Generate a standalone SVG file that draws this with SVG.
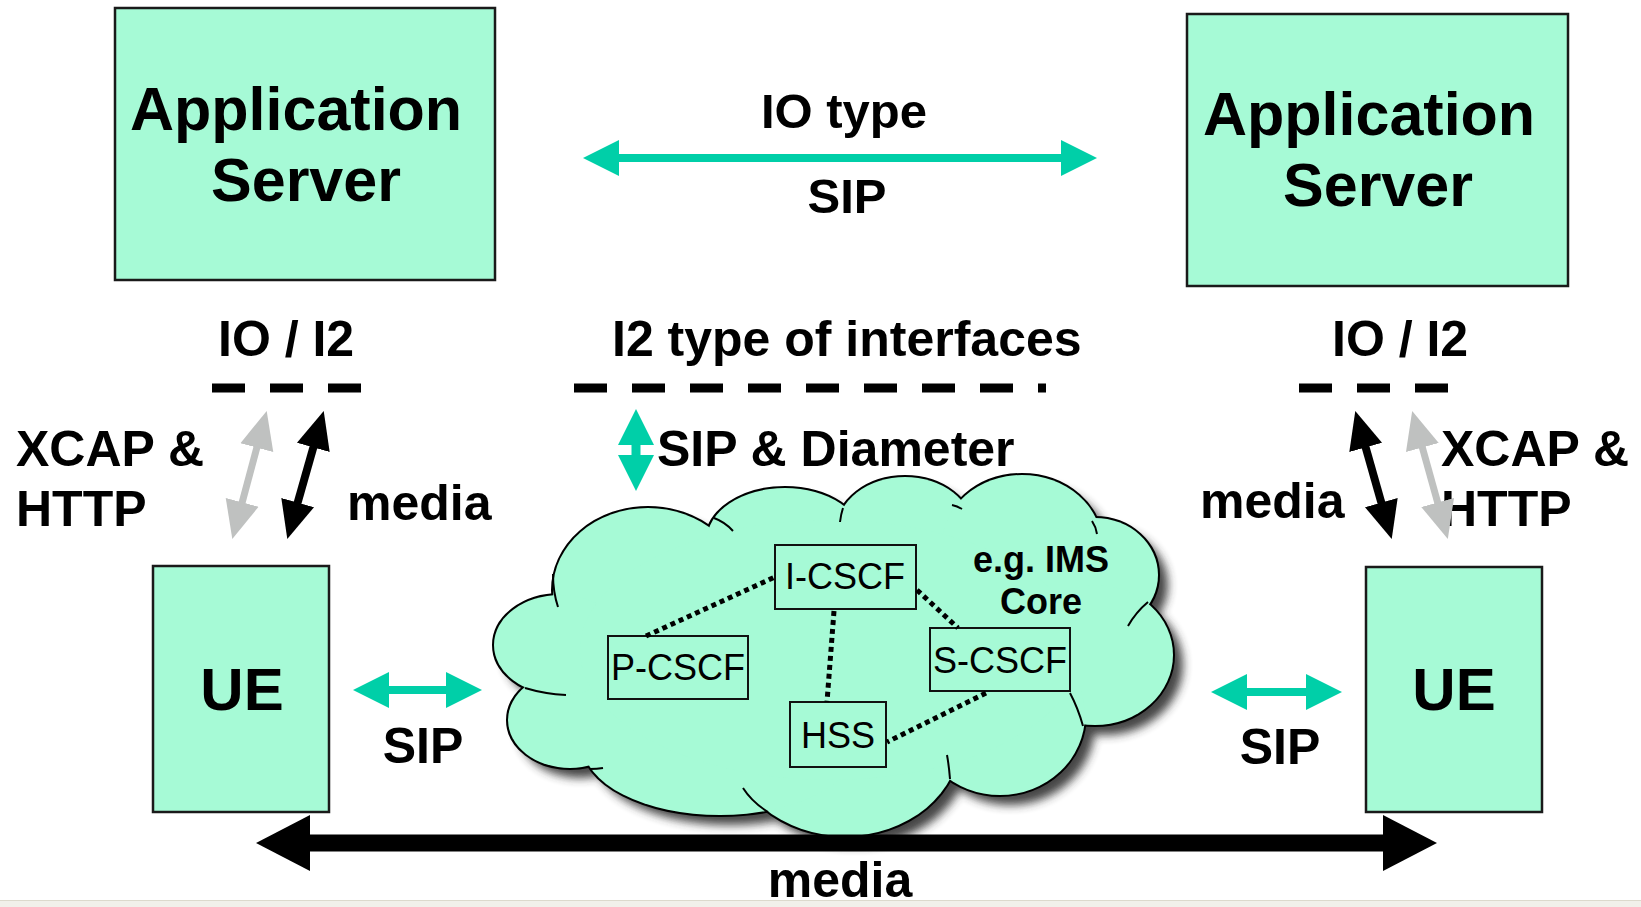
<svg xmlns="http://www.w3.org/2000/svg" width="1641" height="907" viewBox="0 0 1641 907">
<defs>
<style>
.box{fill:#A6FAD6;stroke:#1a1a1a;stroke-width:2.5}
.ibox{fill:none;stroke:#111;stroke-width:2}
.b{font-family:"Liberation Sans",Arial,sans-serif;font-weight:bold;fill:#000}
.n{font-family:"Liberation Sans",Arial,sans-serif;fill:#000}
.dash{stroke:#000;stroke-width:9;stroke-dasharray:33 25;fill:none}
.dot{stroke:#000;stroke-width:5;stroke-dasharray:5 4;fill:none}
.lobeS{fill:none;stroke:#000;stroke-width:4}
.lobeF{fill:#A6FAD6;stroke:none}
.tail{fill:none;stroke:#000;stroke-width:2}
</style>
<marker id="hTeal" markerUnits="userSpaceOnUse" markerWidth="40" markerHeight="40" viewBox="0 -20 40 40" refX="1" refY="0" orient="auto-start-reverse"><path d="M0,-18 L36,0 L0,18 Z" fill="#00CFA8"/></marker>
<marker id="hBlack" markerUnits="userSpaceOnUse" markerWidth="40" markerHeight="40" viewBox="0 -20 40 40" refX="1" refY="0" orient="auto-start-reverse"><path d="M0,-17 L38,0 L0,17 Z" fill="#000"/></marker>
<marker id="hGrey" markerUnits="userSpaceOnUse" markerWidth="40" markerHeight="40" viewBox="0 -20 40 40" refX="1" refY="0" orient="auto-start-reverse"><path d="M0,-17 L38,0 L0,17 Z" fill="#BFC1C0"/></marker>
<marker id="hBig" markerUnits="userSpaceOnUse" markerWidth="60" markerHeight="60" viewBox="0 -30 60 60" refX="1" refY="0" orient="auto-start-reverse"><path d="M0,-28 L54,0 L0,28 Z" fill="#000"/></marker>
<filter id="shadow" x="-20%" y="-20%" width="140%" height="140%"><feGaussianBlur stdDeviation="5"/></filter>
<g id="lobes">
<ellipse cx="648" cy="590" rx="95" ry="82"/>
<ellipse cx="785" cy="540" rx="78" ry="52"/>
<ellipse cx="905" cy="530" rx="68" ry="53"/>
<ellipse cx="1022" cy="545" rx="80" ry="70"/>
<ellipse cx="1095" cy="575" rx="63" ry="57"/>
<ellipse cx="1095" cy="655" rx="78" ry="70"/>
<ellipse cx="1000" cy="715" rx="85" ry="80"/>
<ellipse cx="845" cy="740" rx="115" ry="96"/>
<ellipse cx="720" cy="745" rx="137" ry="70"/>
<ellipse cx="570" cy="720" rx="62" ry="48"/>
<ellipse cx="560" cy="645" rx="66" ry="50"/>
<ellipse cx="830" cy="650" rx="250" ry="130"/>
</g>
</defs>
<rect x="0" y="0" width="1641" height="907" fill="#fff"/>
<rect x="0" y="900" width="1641" height="7" fill="#F1F0EA"/>
<line x1="0" y1="900.5" x2="1641" y2="900.5" stroke="#DCD9CC" stroke-width="1"/>

<g id="as-left">
<rect class="box" x="115" y="8" width="380" height="272"/>
<text class="b" x="130" y="130" font-size="61">Application</text>
<text class="b" x="306" y="201" font-size="61" text-anchor="middle">Server</text>
</g>
<g id="as-right">
<rect class="box" x="1187" y="14" width="381" height="272"/>
<text class="b" x="1203" y="135" font-size="61">Application</text>
<text class="b" x="1378" y="206" font-size="61" text-anchor="middle">Server</text>
</g>

<g id="ims-cloud">
<g filter="url(#shadow)" transform="translate(10,10)" fill="#333" opacity="0.9"><use href="#lobes"/></g>
<g class="lobeS"><use href="#lobes"/></g>
<g class="lobeF"><use href="#lobes"/></g>
<path class="tail" d="M714,518 Q725,522 733,531"/>
<path class="tail" d="M843,508 Q841,514 840,522"/>
<path class="tail" d="M952,505 Q957,506 962,509"/>
<path class="tail" d="M1092,521 Q1096,527 1097,534"/>
<path class="tail" d="M1148,602 Q1136,612 1128,626"/>
<path class="tail" d="M1070,693 Q1078,708 1083,726"/>
<path class="tail" d="M950,779 Q949,766 947,755"/>
<path class="tail" d="M743,788 Q752,802 768,812"/>
<path class="tail" d="M590,769 Q597,769 603,768"/>
<path class="tail" d="M525,688 Q545,694 566,695"/>
<path class="tail" d="M553,574 Q553,592 558,607"/>
<text class="b" x="1041" y="572" font-size="36" text-anchor="middle">e.g. IMS</text>
<text class="b" x="1041" y="614" font-size="36" text-anchor="middle">Core</text>
</g>

<g id="i-cscf"><rect class="ibox" x="775" y="545" width="141" height="64"/><text class="n" x="845" y="589" font-size="36" text-anchor="middle">I-CSCF</text></g>
<g id="p-cscf"><rect class="ibox" x="608" y="636" width="140" height="63"/><text class="n" x="678" y="680" font-size="36" text-anchor="middle">P-CSCF</text></g>
<g id="s-cscf"><rect class="ibox" x="930" y="628" width="140" height="63"/><text class="n" x="1000" y="673" font-size="36" text-anchor="middle">S-CSCF</text></g>
<g id="hss"><rect class="ibox" x="790" y="702" width="96" height="65"/><text class="n" x="838" y="748" font-size="36" text-anchor="middle">HSS</text></g>

<g id="ue-left">
<rect class="box" x="153" y="566" width="176" height="246"/>
<text class="b" x="242" y="710" font-size="60" text-anchor="middle">UE</text>
</g>
<g id="ue-right">
<rect class="box" x="1366" y="567" width="176" height="245"/>
<text class="b" x="1454" y="710" font-size="60" text-anchor="middle">UE</text>
</g>

<g id="labels">
<text class="b" x="844" y="128" font-size="49" text-anchor="middle">IO type</text>
<text class="b" x="847" y="213" font-size="49" text-anchor="middle">SIP</text>
<text class="b" x="218" y="356" font-size="50">IO / I2</text>
<text class="b" x="612" y="356" font-size="50">I2 type of interfaces</text>
<text class="b" x="1332" y="356" font-size="50">IO / I2</text>
<text class="b" x="16" y="466" font-size="50">XCAP &amp;</text>
<text class="b" x="16" y="526" font-size="50">HTTP</text>
<text class="b" x="347" y="520" font-size="50">media</text>
<text class="b" x="657" y="466" font-size="50">SIP &amp; Diameter</text>
<text class="b" x="1200" y="518" font-size="50">media</text>
<text class="b" x="1441" y="466" font-size="50">XCAP &amp;</text>
<text class="b" x="1441" y="526" font-size="50">HTTP</text>
<text class="b" x="423" y="763" font-size="50" text-anchor="middle">SIP</text>
<text class="b" x="1280" y="764" font-size="50" text-anchor="middle">SIP</text>
<text class="b" x="840" y="897" font-size="50" text-anchor="middle">media</text>
</g>

<g id="connectors">
<line class="dash" x1="212" y1="388" x2="362" y2="388"/>
<line class="dash" x1="574" y1="388" x2="1046" y2="388"/>
<line class="dash" x1="1299" y1="388" x2="1449" y2="388"/>
<line class="dot" x1="646" y1="636" x2="775" y2="577"/>
<line class="dot" x1="834" y1="611" x2="827" y2="702"/>
<line class="dot" x1="917" y1="590" x2="958" y2="628"/>
<line class="dot" x1="986" y1="693" x2="887" y2="742"/>
<line x1="618" y1="158" x2="1062" y2="158" stroke="#00CFA8" stroke-width="8" marker-start="url(#hTeal)" marker-end="url(#hTeal)"/>
<line x1="636" y1="444" x2="636" y2="456" stroke="#00CFA8" stroke-width="9" marker-start="url(#hTeal)" marker-end="url(#hTeal)"/>
<line x1="388" y1="690" x2="447" y2="690" stroke="#00CFA8" stroke-width="8" marker-start="url(#hTeal)" marker-end="url(#hTeal)"/>
<line x1="1246" y1="692" x2="1307" y2="692" stroke="#00CFA8" stroke-width="8" marker-start="url(#hTeal)" marker-end="url(#hTeal)"/>
<line x1="257.1" y1="446.7" x2="241.9" y2="503.3" stroke="#BFC1C0" stroke-width="7" marker-start="url(#hGrey)" marker-end="url(#hGrey)"/>
<line x1="313.6" y1="446.5" x2="297.4" y2="503.5" stroke="#000" stroke-width="8" marker-start="url(#hBlack)" marker-end="url(#hBlack)"/>
<line x1="1365.4" y1="446.5" x2="1381.6" y2="503.5" stroke="#000" stroke-width="8" marker-start="url(#hBlack)" marker-end="url(#hBlack)"/>
<line x1="1422.1" y1="446.6" x2="1437.9" y2="503.4" stroke="#BFC1C0" stroke-width="7" marker-start="url(#hGrey)" marker-end="url(#hGrey)"/>
<line x1="309" y1="843" x2="1384" y2="843" stroke="#000" stroke-width="17" marker-start="url(#hBig)" marker-end="url(#hBig)"/>
</g>
</svg>
